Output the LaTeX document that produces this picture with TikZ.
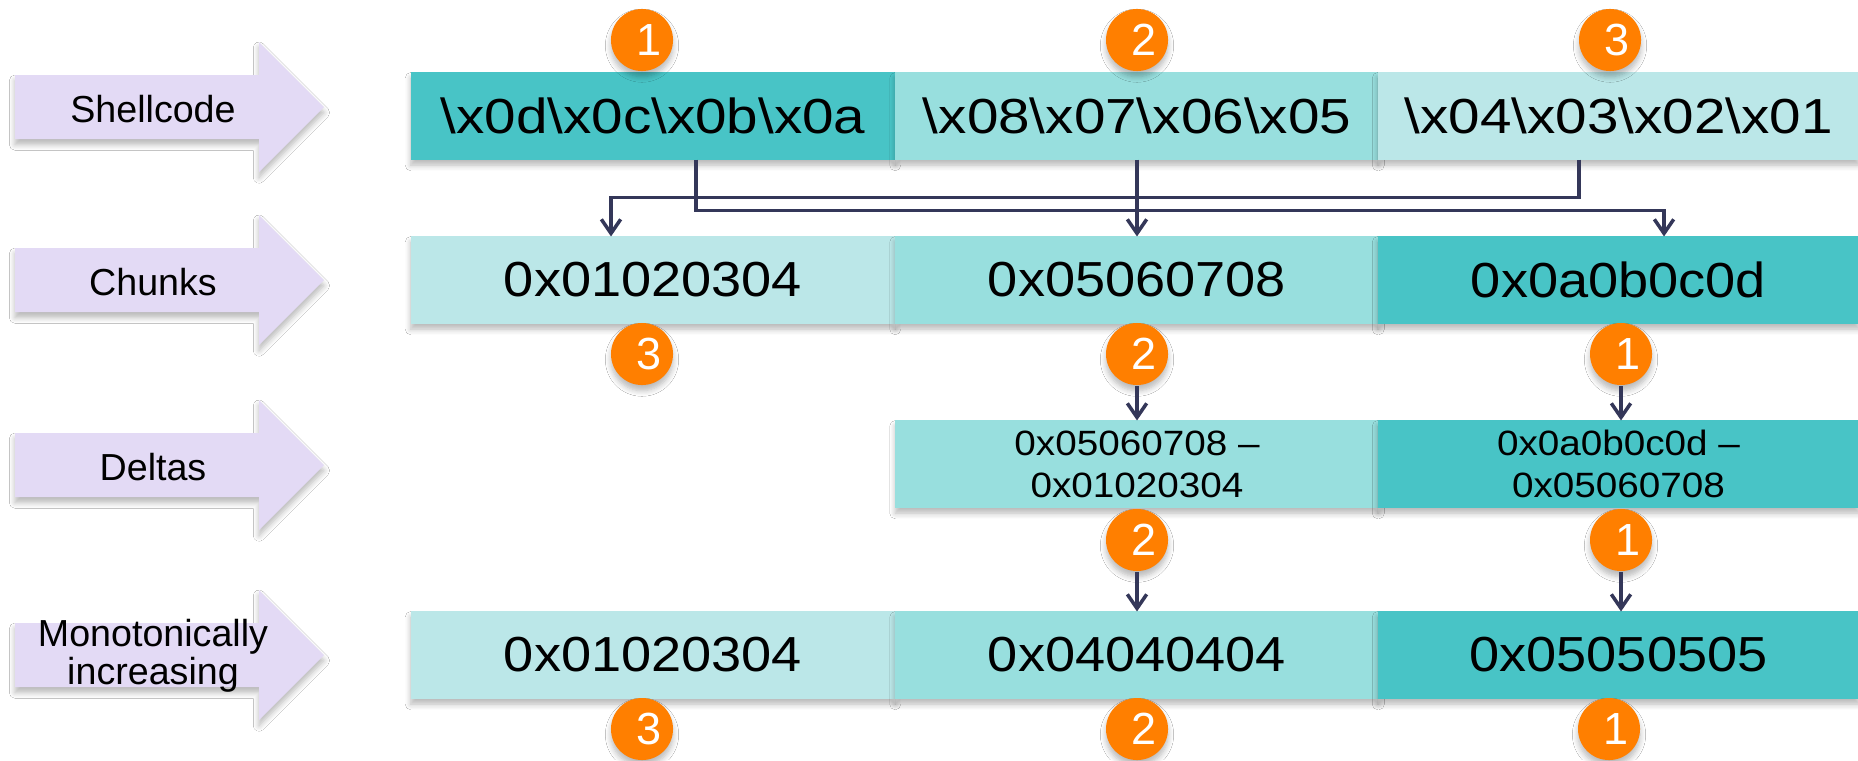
\documentclass[tikz,border=0pt]{standalone}
\usepackage{fontspec}
\setmainfont{Liberation Sans}
\newfontfamily\boxfont{Liberation Sans}[FakeStretch=1.1]
\newfontfamily\codefont{Liberation Sans}[FakeStretch=1.15]
\usetikzlibrary{arrows.meta,calc,shadows.blur}
\definecolor{tdark}{RGB}{72,196,198}
\definecolor{tmed}{RGB}{152,223,222}
\definecolor{tlight}{RGB}{187,231,232}
\definecolor{lav}{RGB}{227,218,245}
\definecolor{orng}{RGB}{255,127,0}
\definecolor{navy}{RGB}{52,55,89}
\tikzset{
  softshadow/.style={blur shadow={shadow xshift=0pt, shadow yshift=-1.6pt, shadow opacity=28, shadow blur radius=1.6pt, shadow blur steps=6}},
  box/.style={rectangle, inner sep=0pt, outer sep=0pt, minimum height=0.87cm, text=black, font=\boxfont\fontsize{14}{17}\selectfont, softshadow},
  codebox/.style={box, font=\codefont\fontsize{14}{17}\selectfont},
  smallbox/.style={box, font=\boxfont\fontsize{10}{12}\selectfont, align=center},
  c1/.style={minimum width=4.84cm},
  c2/.style={minimum width=4.83cm},
  c3/.style={minimum width=4.81cm},
  badge/.style={circle, fill=orng, minimum size=0.62cm, inner sep=0pt, text=white, font=\fontsize{12.8}{14}\selectfont, softshadow},
  arrowlabel/.style={font=\fontsize{10.7}{12}\selectfont, text=black, align=center, inner sep=0pt},
  conn/.style={draw=navy, line width=1pt, -{Straight Barb[length=4pt,width=5.5pt,line width=1pt]}},
}
\newcommand{\bignum}[1]{\hspace{0.14cm}#1}
\newcommand{\lavarrow}[1]{%
  \fill[lav, softshadow] (15,#1-32) -- (259,#1-32) -- (259,#1-65) -- (324,#1) -- (259,#1+65) -- (259,#1+32) -- (15,#1+32) -- cycle;}
\begin{document}
\begin{tikzpicture}[x=0.01cm, y=-0.01cm]
\useasboundingbox[fill=white] (0,0) rectangle (1858,760);

% left arrows
\lavarrow{107}
\lavarrow{280}
\lavarrow{465}
\lavarrow{655}
\node[arrowlabel] (lshell) at (153,109) {Shellcode};
\node[arrowlabel] (lchunk) at (153,282) {Chunks};
\node[arrowlabel] (ldelta) at (153,467) {Deltas};
\node[arrowlabel] (lmono) at (153,656) {Monotonically\\[-1.2pt]increasing};

% row 1: shellcode
\node[codebox, c1, fill=tdark]  (s1) at (653,116) {\textbackslash x0d\textbackslash x0c\textbackslash x0b\textbackslash x0a};
\node[codebox, c2, fill=tmed]   (s2) at (1137,116) {\textbackslash x08\textbackslash x07\textbackslash x06\textbackslash x05};
\node[codebox, c3, fill=tlight] (s3) at (1618.5,116) {\textbackslash x04\textbackslash x03\textbackslash x02\textbackslash x01};

% row 2: chunks
\node[box, c1, fill=tlight] (c1) at (653,280) {0x01020304};
\node[box, c2, fill=tmed]   (c2) at (1137,280) {0x05060708};
\node[box, c3, fill=tdark]  (c3) at (1618.5,280) {0x0a0b0c0d};

% row 3: deltas
\node[smallbox, c2, fill=tmed]  (d2) at (1137,464) {0x05060708 –\\0x01020304};
\node[smallbox, c3, fill=tdark] (d3) at (1618.5,464) {0x0a0b0c0d –\\0x05060708};

% row 4: monotonically increasing
\node[box, c1, fill=tlight] (m1) at (653,655) {0x01020304};
\node[box, c2, fill=tmed]   (m2) at (1137,655) {0x04040404};
\node[box, c3, fill=tdark]  (m3) at (1618.5,655) {0x05050505};

% badges
\node[badge] (bs1) at (642,40) {\bignum{1}};
\node[badge] (bs2) at (1137,40) {\bignum{2}};
\node[badge] (bs3) at (1610,40) {\bignum{3}};
\node[badge] (bc1) at (642,354) {\bignum{3}};
\node[badge] (bc2) at (1137,354) {\bignum{2}};
\node[badge] (bc3) at (1621,354) {\bignum{1}};
\node[badge] (bd2) at (1137,540) {\bignum{2}};
\node[badge] (bd3) at (1621,540) {\bignum{1}};
\node[badge] (bm1) at (642,729) {\bignum{3}};
\node[badge] (bm2) at (1137,729) {\bignum{2}};
\node[badge] (bm3) at (1609,729) {\bignum{1}};

% connectors shellcode -> chunks
\draw[conn] ($(s1.south)+(43,0)$) -- ++(0,51) -| ($(c3.north)+(45.5,0)$);
\draw[conn] ($(s3.south)+(-39.5,0)$) -- ++(0,38) -| ($(c1.north)+(-42,0)$);
\draw[conn] (s2.south) -- (c2.north);

% connectors badges -> deltas -> monotonic
\draw[conn] (bc2.south) -- (bc2 |- d2.north);
\draw[conn] (bc3.south) -- (bc3 |- d3.north);
\draw[conn] (bd2.south) -- (bd2 |- m2.north);
\draw[conn] (bd3.south) -- (bd3 |- m3.north);
\end{tikzpicture}
\end{document}
